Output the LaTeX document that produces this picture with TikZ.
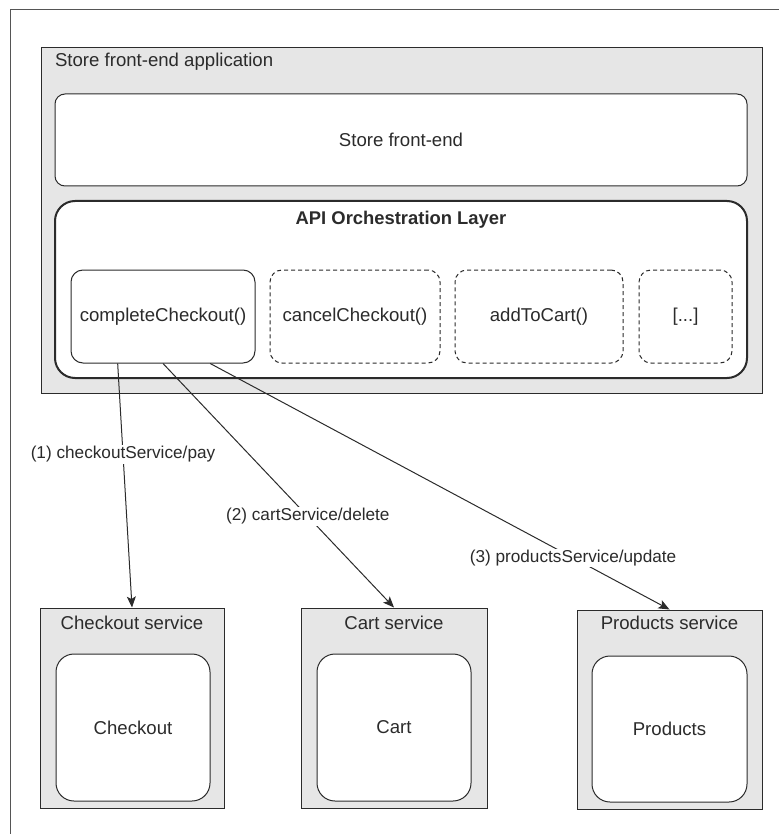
\documentclass[tikz,border=0pt]{standalone}
\usepackage{fontspec}
\setmainfont{Liberation Sans}
\usetikzlibrary{arrows.meta,calc}
\definecolor{ink}{HTML}{2B2B2B}
\definecolor{shade}{HTML}{E6E6E6}
\definecolor{rim}{HTML}{555555}

\begin{document}
\begin{tikzpicture}[x=1pt,y=-1pt,text=ink,
    font=\fontsize{18.6}{22}\selectfont,
    >={Stealth[length=11pt,width=9pt,inset=2.5pt]},
    tier/.style={draw=ink,line width=1pt,fill=shade,inner sep=0pt},
    part/.style={draw=ink,line width=1pt,fill=white,inner sep=0pt,
                 rounded corners=#1},
    fn/.style={part=12pt,minimum height=93},
    stub/.style={fn,dash pattern=on 4pt off 3pt},
    call/.style={->,draw=ink,line width=1pt},
    tag/.style={fill=white,inner sep=1pt,font=\fontsize{17.2}{20}\selectfont}]
  \useasboundingbox (0,0) rectangle (779,834);
  \draw[rim,line width=1pt] (10,834) -- (10,10) -- (779,10);

  % front-end application
  \node[tier,minimum width=721,minimum height=345] (app) at (401.5,220.5) {};
  \node[anchor=west] (apptitle) at ($(app.north west)+(11,14)$)
    {Store front-end application};
  \node[part=10pt,minimum width=692,minimum height=92] (fe) at (401,140)
    {Store front-end};
  \node[part=20pt,line width=2pt,minimum width=692,minimum height=177]
    (api) at (401,289.5) {};
  \node[font=\fontsize{18.4}{22}\selectfont\bfseries] (apititle)
    at ($(api.north)+(0,20)$) {API Orchestration Layer};
  \node[fn,minimum width=184] (cc) at (163,316.5) {completeCheckout()};
  \node[stub,minimum width=170] (cancel) at (355,316.5) {cancelCheckout()};
  \node[stub,minimum width=168] (add) at (539,316.5) {addToCart()};
  \node[stub,minimum width=93] (more) at (685.5,316.5) {[...]};

  % services
  \node[tier,minimum width=184,minimum height=200] (svcco) at (132,708) {};
  \node[tier,minimum width=186,minimum height=200] (svccart) at (394,708) {};
  \node[tier,minimum width=185,minimum height=199] (svcprod) at (669.5,709.5) {};
  \node (svccotitle) at ($(svcco.north)+(0,15)$) {Checkout service};
  \node (svcarttitle) at ($(svccart.north)+(0,15)$) {Cart service};
  \node (svcprodtitle) at ($(svcprod.north)+(0,13)$) {Products service};
  \node[part=18pt,minimum width=154,minimum height=147] (checkout)
    at (133,727.5) {Checkout};
  \node[part=18pt,minimum width=154,minimum height=147] (cart)
    at (394,727.5) {Cart};
  \node[part=18pt,minimum width=155,minimum height=146] (products)
    at (669.5,729) {Products};

  % calls
  \coordinate (cc1) at ($(cc.south west)!.255!(cc.south east)$);
  \coordinate (cc2) at (cc.south);
  \coordinate (cc3) at ($(cc.south west)!.755!(cc.south east)$);
  \draw[call] (cc1) -- node[tag,pos=.373] (t1) {(1) checkoutService/pay}
    (svcco.north);
  \draw[call] (cc2) -- node[tag,pos=.627] (t2) {(2) cartService/delete}
    (svccart.north);
  \draw[call] (cc3) -- node[tag,pos=.79] (t3) {(3) productsService/update}
    (svcprod.north);
\end{tikzpicture}
\end{document}
